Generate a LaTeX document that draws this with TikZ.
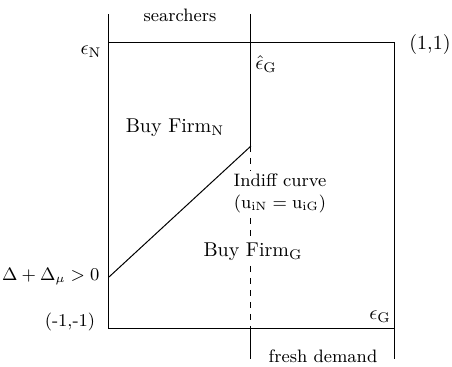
\documentclass[tikz,border=0pt]{standalone}
\usepackage{amsmath,amssymb}
\usetikzlibrary{positioning}

\begin{document}
\begin{tikzpicture}[
      x=0.5pt,y=-0.5pt,
      line width=0.5pt,
      lbl/.style={inner sep=1pt,font=\small},
      region/.style={inner sep=2pt,fill=white,font=\normalsize}
    ]
      \useasboundingbox (0,0) rectangle (452,367);
      % unit square and its extensions
      \coordinate (ll) at (109,329);
      \coordinate (ul) at (109,43);
      \coordinate (ur) at (395,43);
      \coordinate (lr) at (395,329);
      \coordinate (lt) at (109,14);
      \coordinate (rb) at (395,359);
      % threshold and indifference curve
      \coordinate (mt) at (251,14);
      \coordinate (kink) at (251,146);
      \coordinate (mb) at (251,329);
      \coordinate (mbb) at (251,359);
      \coordinate (icpt) at (109,277);

      \draw (ll) rectangle (ur);
      \draw (ul) -- (lt);
      \draw (lr) -- (rb);
      \draw (mt) -- (kink);
      \draw[dashed] (kink) -- (mb);
      \draw (mb) -- (mbb);
      \draw (icpt) -- (kink);

      \node[lbl] (srch) at (180,15) {searchers};
      \node[lbl] (fresh) at (323,356) {fresh demand};
      \node[inner sep=1pt] (epsN) at (91,52) {$\epsilon_{\mathrm{N}}$};
      \node[inner sep=1pt] (epsGhat) at (266,64) {$\hat\epsilon_{\mathrm{G}}$};
      \node[inner sep=1pt] (epsG) at (380,317) {$\epsilon_{\mathrm{G}}$};
      \node[inner sep=1pt] (one) at (430,45) {(1,1)};
      \node[lbl] (minus) at (70,322) {(-1,-1)};
      \node[region] (firmN) at (175,128) {Buy Firm$_{\mathrm{N}}$};
      \node[region,font=\small,align=center,inner sep=1pt]
        (indiff) at (280,193) {Indiff curve\\($\mathrm{u_{iN}=u_{iG}}$)};
      \node[region] (firmG) at (253,252) {Buy Firm$_{\mathrm{G}}$};
      \node[inner sep=1pt,anchor=east,font=\fontsize{9}{11}\selectfont]
        (delta) at (102,277) {$\Delta+\Delta_\mu>0$};
    \end{tikzpicture}
\end{document}
